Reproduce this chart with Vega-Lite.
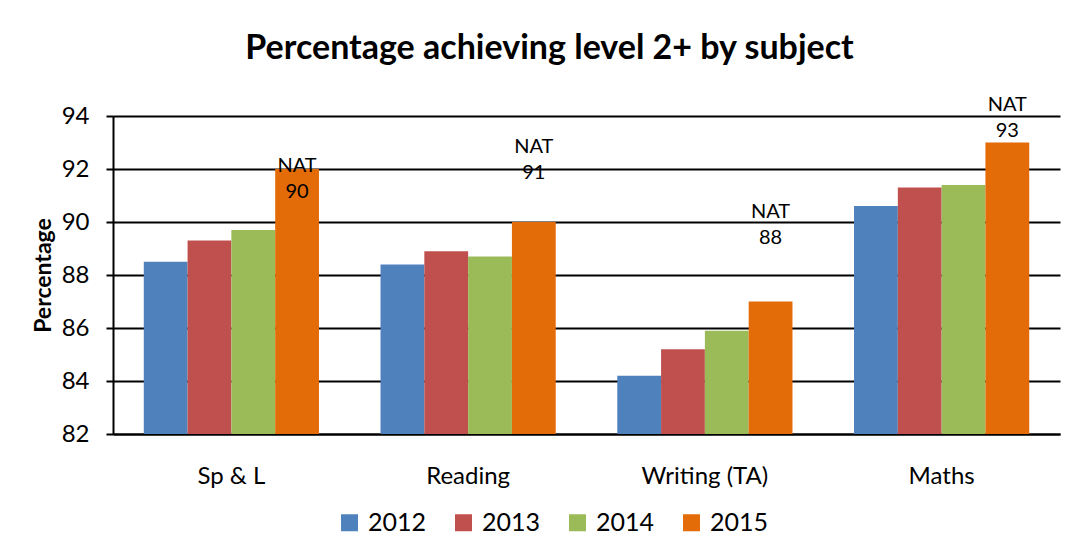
{
  "$schema": "https://vega.github.io/schema/vega-lite/v6.json",
  "autosize": {"type": "none"},
  "width": 947,
  "height": 318,
  "padding": {"left": 113, "top": 116, "right": 16, "bottom": 108},
  "background": "white",
  "title": {
    "text": "Percentage achieving level 2+ by subject",
    "font": "Lato",
    "fontSize": 34,
    "fontWeight": "bold",
    "color": "black",
    "anchor": "middle",
    "dx": -37,
    "offset": 29
  },
  "config": {
    "view": {"stroke": null},
    "font": "Lato"
  },
  "datasets": {
    "bars": [
      {"subject": "Sp & L", "year": "2012", "value": 88.5},
      {"subject": "Sp & L", "year": "2013", "value": 89.3},
      {"subject": "Sp & L", "year": "2014", "value": 89.7},
      {"subject": "Sp & L", "year": "2015", "value": 92.0},
      {"subject": "Reading", "year": "2012", "value": 88.4},
      {"subject": "Reading", "year": "2013", "value": 88.9},
      {"subject": "Reading", "year": "2014", "value": 88.7},
      {"subject": "Reading", "year": "2015", "value": 90.0},
      {"subject": "Writing (TA)", "year": "2012", "value": 84.2},
      {"subject": "Writing (TA)", "year": "2013", "value": 85.2},
      {"subject": "Writing (TA)", "year": "2014", "value": 85.9},
      {"subject": "Writing (TA)", "year": "2015", "value": 87.0},
      {"subject": "Maths", "year": "2012", "value": 90.6},
      {"subject": "Maths", "year": "2013", "value": 91.3},
      {"subject": "Maths", "year": "2014", "value": 91.4},
      {"subject": "Maths", "year": "2015", "value": 93.0}
    ],
    "nat": [
      {"subject": "Sp & L", "year": "2015", "label": "NAT\n90", "pos": 92.1},
      {"subject": "Reading", "year": "2015", "label": "NAT\n91", "pos": 92.82},
      {"subject": "Writing (TA)", "year": "2015", "label": "NAT\n88", "pos": 90.37},
      {"subject": "Maths", "year": "2015", "label": "NAT\n93", "pos": 94.4}
    ]
  },
  "encoding": {
    "x": {
      "field": "subject",
      "type": "nominal",
      "sort": ["Sp & L", "Reading", "Writing (TA)", "Maths"],
      "scale": {"paddingInner": 0.26, "paddingOuter": 0.13},
      "axis": {
        "title": null,
        "labelAngle": 0,
        "labelFontSize": 24,
        "labelColor": "black",
        "labelPadding": 30,
        "ticks": false,
        "domainColor": "black",
        "domainWidth": 2
      }
    },
    "xOffset": {"field": "year", "type": "nominal", "sort": ["2012", "2013", "2014", "2015"]}
  },
  "layer": [
    {
      "data": {"name": "bars"},
      "mark": {"type": "bar", "clip": true},
      "encoding": {
        "y": {
          "field": "value",
          "type": "quantitative",
          "scale": {"domain": [82, 94], "nice": false, "zero": false},
          "axis": {
            "title": "Percentage",
            "titleFontSize": 23,
            "titleFontWeight": "bold",
            "titleColor": "black",
            "titlePadding": 6,
            "values": [82, 84, 86, 88, 90, 92, 94],
            "labelFontSize": 24,
            "labelColor": "black",
            "labelPadding": 17,
            "tickSize": 7,
            "tickColor": "black",
            "tickWidth": 2,
            "domainColor": "black",
            "domainWidth": 2,
            "grid": true,
            "gridColor": "black",
            "gridWidth": 2
          }
        },
        "color": {
          "field": "year",
          "type": "nominal",
          "scale": {
            "domain": ["2012", "2013", "2014", "2015"],
            "range": ["#4F81BD", "#C0504D", "#9BBB59", "#E36C09"]
          },
          "legend": {
            "title": null,
            "orient": "none",
            "direction": "horizontal",
            "legendX": 224,
            "legendY": 394,
            "symbolType": "square",
            "symbolSize": 289,
            "symbolStrokeWidth": 0,
            "symbolOpacity": 1,
            "labelFontSize": 25,
            "labelColor": "black",
            "labelOffset": 6,
            "columnPadding": 24
          }
        }
      }
    },
    {
      "data": {"name": "nat"},
      "mark": {"type": "text", "fontSize": 20, "color": "black", "lineBreak": "\n", "lineHeight": 26, "baseline": "middle", "align": "center"},
      "encoding": {
        "y": {"field": "pos", "type": "quantitative"},
        "text": {"field": "label"}
      }
    }
  ]
}
